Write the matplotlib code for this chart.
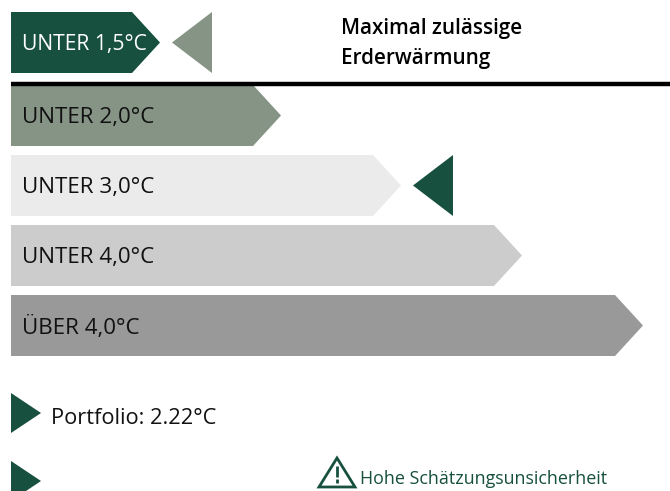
import matplotlib
matplotlib.use('Agg')
import matplotlib.pyplot as plt
from matplotlib.patches import Polygon

# categories and arrow lengths, in picture pixels
categories = ['UNTER 1,5°C', 'UNTER 2,0°C', 'UNTER 3,0°C', 'UNTER 4,0°C', 'ÜBER 4,0°C']
arrow_tips = [160, 281, 401, 522, 643]
arrow_tops = [12, 85, 155, 225, 295]
arrow_colors = ['#17503F', '#859485', '#ECEBEC', '#CCCCCC', '#999999']
label_colors = ['white', '#111111', '#111111', '#111111', '#111111']

# which row each marker sits in, and where its point is
marker_rows = [0, 2]
marker_tips = [172, 413]
marker_colors = ['#859485', '#17503F']

title_lines = ['Maximal zulässige', 'Erderwärmung']
portfolio_label = 'Portfolio: 2.22°C'
warning_label = 'Hohe Schätzungsunsicherheit'

DARK = '#17503F'
FONT = 'Open Sans'
left = 11
height = 61
point = 28

fig = plt.figure(figsize=(6.7, 4.91), dpi=100)
ax = fig.add_axes([0, 0, 1, 1])
ax.set_xlim(0, 670)
ax.set_ylim(491, 0)
ax.axis('off')

# arrows, the top row has slightly smaller text
for i, (name, tip, top, color, text_color) in enumerate(zip(categories, arrow_tips, arrow_tops, arrow_colors, label_colors)):
    mid = top + height / 2
    ax.add_patch(Polygon([(left, top), (tip - point, top), (tip, mid), (tip - point, top + height), (left, top + height)],
                         closed=True, fc=color, ec='none'))
    ax.text(22, mid + 2, name, color=text_color, fontsize=15.2 if i == 0 else 16.1, family=FONT, va='center', ha='left')

# left pointing markers
for row, tip, color in zip(marker_rows, marker_tips, marker_colors):
    top = arrow_tops[row]
    ax.add_patch(Polygon([(tip, top + height / 2), (tip + 40, top), (tip + 40, top + height)],
                         closed=True, fc=color, ec='none'))

# header
ax.plot([left, 670], [83.5, 83.5], color='#000000', lw=3.2, solid_capstyle='butt')
ax.text(341, 28, title_lines[0], fontsize=14.9, family=FONT, weight='semibold', va='center', color='black')
ax.text(341, 58, title_lines[1], fontsize=14.9, family=FONT, weight='semibold', va='center', color='black')

# legend
ax.add_patch(Polygon([(11, 393), (41, 413), (11, 433)], closed=True, fc=DARK, ec='none'))
ax.add_patch(Polygon([(11, 461), (41, 481), (11, 501)], closed=True, fc=DARK, ec='none'))
ax.text(51, 418, portfolio_label, fontsize=15.7, family=FONT, va='center', color='#111111')

# warning icon
ax.add_patch(Polygon([(337, 458), (355, 487), (319, 487)], closed=True, fc='white', ec=DARK, lw=2, joinstyle='miter'))
ax.plot([337, 337], [466, 477], color=DARK, lw=2, solid_capstyle='butt')
ax.plot([337, 337], [479, 482.5], color=DARK, lw=2, solid_capstyle='butt')
ax.text(360, 479, warning_label, fontsize=12.9, family=FONT, va='center', color=DARK)

fig.savefig('out.png', dpi=100)
